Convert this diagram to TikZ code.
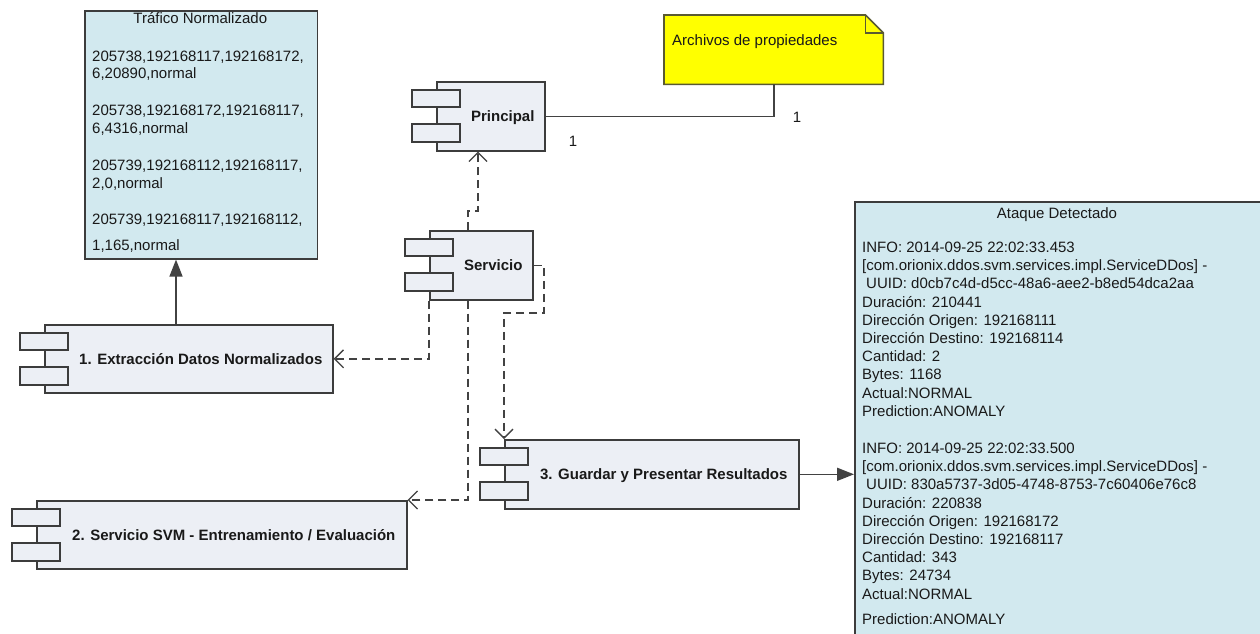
\documentclass[tikz,border=0pt]{standalone}
\usepackage{fontspec}
\setmainfont{Liberation Sans}
\usetikzlibrary{arrows.meta}

\definecolor{bordc}{RGB}{60,60,60}
\definecolor{linec}{RGB}{66,66,66}
\definecolor{textc}{RGB}{25,25,25}
\definecolor{infofill}{RGB}{210,233,239}
\definecolor{compfill}{RGB}{236,239,245}
\definecolor{notefill}{RGB}{255,255,0}
\definecolor{notebord}{RGB}{90,90,50}

% UML component: body node plus two pegs on the left edge and a bold label
\newcommand\umlcomp[6]{%
  \node[comp, minimum width=#4, minimum height=#5] (#1) at (#2,#3) {};
  \draw[peg] ([shift={(-24,9)}]#1.north west) rectangle ++(48,17);
  \draw[peg] ([shift={(-24,43)}]#1.north west) rectangle ++(48,18);
  \node[complabel] (#1-label) at ([shift={(12,5.4)}]#1.center) {#6};
}

\begin{document}
\begin{tikzpicture}[x=1pt,y=-1pt,
  infobox/.style={draw=bordc, line width=1.6pt, fill=infofill, inner sep=0, anchor=north west},
  comp/.style={draw=bordc, line width=1.6pt, fill=compfill, inner sep=0, anchor=north west},
  peg/.style={draw=bordc, line width=1.6pt, fill=compfill},
  txt/.style={anchor=base west, inner sep=0, text=textc, font=\fontsize{15}{18}\selectfont},
  complabel/.style={anchor=base, inner sep=0, text=textc, font=\fontsize{15}{18}\selectfont\bfseries},
  dep/.style={draw=linec, line width=1.6pt, dash pattern=on 8pt off 5pt,
    -{Straight Barb[length=9pt,width=18pt,line width=1.3pt]}},
  solidarrow/.style={draw=linec, line width=1.6pt, -{Triangle[length=17pt,width=13pt]}},
  assoc/.style={draw=linec, line width=1.6pt}]

\useasboundingbox (0,0) rectangle (1260,633);
\clip (0,0) rectangle (1260,633);
\fill[white] (0,0) rectangle (1260,633);

% ---- normalized traffic data box ----
\node[infobox, minimum width=232.7, minimum height=248] (traf) at (84,10) {};
\node[txt, anchor=base] (traf-t) at (200.3,23.7) {Tráfico Normalizado};
\node[txt] (traf-1) at (92,61.1) {205738,192168117,192168172,};
\node[txt] (traf-2) at (92,78.7) {6,20890,normal};
\node[txt] (traf-3) at (92,115.4) {205738,192168172,192168117,};
\node[txt] (traf-4) at (92,133.4) {6,4316,normal};
\node[txt] (traf-5) at (92,170.4) {205739,192168112,192168117,};
\node[txt] (traf-6) at (92,188.4) {2,0,normal};
\node[txt] (traf-7) at (92,224.4) {205739,192168117,192168112,};
\node[txt] (traf-8) at (92,250.4) {1,165,normal};

% ---- properties note ----
\node[inner sep=0, minimum width=219, minimum height=69, anchor=north west] (note) at (664,15) {};
\draw[draw=notebord, line width=1.6pt, fill=notefill, line join=miter]
  (note.north west) -- ([shift={(-18,0)}]note.north east) -- ([shift={(0,18)}]note.north east)
  -- (note.south east) -- (note.south west) -- cycle;
\draw[draw=notebord, line width=1.3pt]
  ([shift={(-18,0)}]note.north east) -- ([shift={(-18,18)}]note.north east) -- ([shift={(0,18)}]note.north east);
\node[txt] (note-t) at (672,45.4) {Archivos de propiedades};

% ---- detected attack log box ----
\node[infobox, minimum width=410, minimum height=440] (ataq) at (854,201) {};
\node[txt, anchor=base] (ataq-t) at (1057,218.4) {Ataque Detectado};
\node[txt] (a1)  at (862,252.4) {INFO: 2014-09-25 22:02:33.453};
\node[txt] (a2)  at (862,270.6) {[com.orionix.ddos.svm.services.impl.ServiceDDos] -};
\node[txt] (a3)  at (866,288.8) {UUID: d0cb7c4d-d5cc-48a6-aee2-b8ed54dca2aa};
\node[txt] (a4)  at (862,307.0) {Duración: 210441};
\node[txt] (a5)  at (862,325.2) {Dirección Origen: 192168111};
\node[txt] (a6)  at (862,343.4) {Dirección Destino: 192168114};
\node[txt] (a7)  at (862,361.6) {Cantidad: 2};
\node[txt] (a8)  at (862,379.8) {Bytes: 1168};
\node[txt] (a9)  at (862,398.0) {Actual:NORMAL};
\node[txt] (a10) at (862,416.2) {Prediction:ANOMALY};
\node[txt] (b1)  at (862,453.4) {INFO: 2014-09-25 22:02:33.500};
\node[txt] (b2)  at (862,471.6) {[com.orionix.ddos.svm.services.impl.ServiceDDos] -};
\node[txt] (b3)  at (866,489.8) {UUID: 830a5737-3d05-4748-8753-7c60406e76c8};
\node[txt] (b4)  at (862,508.0) {Duración: 220838};
\node[txt] (b5)  at (862,526.2) {Dirección Origen: 192168172};
\node[txt] (b6)  at (862,544.4) {Dirección Destino: 192168117};
\node[txt] (b7)  at (862,562.6) {Cantidad: 343};
\node[txt] (b8)  at (862,580.8) {Bytes: 24734};
\node[txt] (b9)  at (862,599.0) {Actual:NORMAL};
\node[txt] (b10) at (862,624.4) {Prediction:ANOMALY};

% ---- components ----
\umlcomp{prin}{436}{81}{108}{69}{Principal}
\umlcomp{serv}{429}{230}{103}{69}{Servicio}
\umlcomp{ext}{44}{324}{288}{68}{1. Extracción Datos Normalizados}
\umlcomp{svm}{36}{500}{370}{68}{2. Servicio SVM - Entrenamiento / Evaluación}
\umlcomp{guard}{504}{439}{294}{69}{3. Guardar y Presentar Resultados}

% ---- connectors ----
\coordinate (ax) at (176,0);
\draw[solidarrow] (ax |- ext.north) -- (ax |- traf.south);

\draw[assoc] (prin.east) -| (note.south);
\node[txt, anchor=center] (m1) at (573,141) {1};
\node[txt, anchor=center] (m2) at (797,117) {1};

\coordinate (s1) at (468,211);
\coordinate (s2) at (478,211);
\draw[dep] (s1 |- serv.north) -- (s1) -- (s2) -- (s2 |- prin.south);

\coordinate (r1) at (544,313);
\draw[dep] (serv.east) -| (r1) -| (guard.north west);

\coordinate (d1) at (468,0);
\draw[dep] (d1 |- serv.south) |- (svm.north east);

\draw[dep] (serv.south west) |- (ext.east);

\draw[solidarrow] (guard.east) -- (guard.east -| ataq.west);

\end{tikzpicture}
\end{document}
